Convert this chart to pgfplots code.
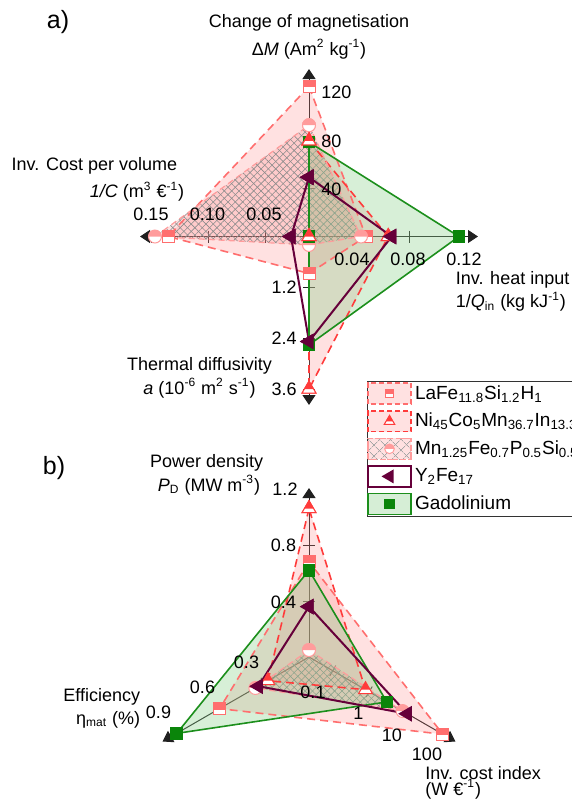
\documentclass[border=0pt]{standalone}
\usepackage{fontspec}
\setmainfont{Liberation Sans}
\usepackage{pgfplots}
\usepackage{pgfplotstable}
\pgfplotsset{compat=1.18}
\usetikzlibrary{patterns,patterns.meta,arrows.meta}

\definecolor{lafe}{HTML}{FF6E6E}
\definecolor{nico}{HTML}{FF3B3B}
\definecolor{mnfe}{HTML}{FF9C9C}
\definecolor{yfe}{HTML}{66003A}
\definecolor{gdline}{HTML}{1C8F1C}
\definecolor{gdmark}{HTML}{0A850A}
\definecolor{pinkfill}{HTML}{FF8888}
\definecolor{gdfill}{HTML}{8CD08C}
\definecolor{axcol}{HTML}{202020}

% half-filled markers
\pgfdeclareplotmark{hsquare}{%
  \begin{pgfscope}\pgfsetfillcolor{white}%
    \pgfpathrectangle{\pgfqpoint{-\pgfplotmarksize}{-\pgfplotmarksize}}{\pgfqpoint{2\pgfplotmarksize}{2\pgfplotmarksize}}%
    \pgfusepathqfill
  \end{pgfscope}%
  \pgfpathrectangle{\pgfqpoint{-\pgfplotmarksize}{-0.15\pgfplotmarksize}}{\pgfqpoint{2\pgfplotmarksize}{1.15\pgfplotmarksize}}%
  \pgfusepathqfill
  \pgfpathrectangle{\pgfqpoint{-\pgfplotmarksize}{-\pgfplotmarksize}}{\pgfqpoint{2\pgfplotmarksize}{2\pgfplotmarksize}}%
  \pgfusepathqstroke
}
\pgfdeclareplotmark{htriangle}{%
  \begin{pgfscope}\pgfsetfillcolor{white}%
    \pgfpathmoveto{\pgfqpoint{0pt}{\pgfplotmarksize}}%
    \pgfpathlineto{\pgfqpoint{-0.866\pgfplotmarksize}{-0.5\pgfplotmarksize}}%
    \pgfpathlineto{\pgfqpoint{0.866\pgfplotmarksize}{-0.5\pgfplotmarksize}}%
    \pgfpathclose\pgfusepathqfill
  \end{pgfscope}%
  \pgfpathmoveto{\pgfqpoint{0pt}{\pgfplotmarksize}}%
  \pgfpathlineto{\pgfqpoint{-0.577\pgfplotmarksize}{0pt}}%
  \pgfpathlineto{\pgfqpoint{0.577\pgfplotmarksize}{0pt}}%
  \pgfpathclose\pgfusepathqfill
  \pgfpathmoveto{\pgfqpoint{0pt}{\pgfplotmarksize}}%
  \pgfpathlineto{\pgfqpoint{-0.866\pgfplotmarksize}{-0.5\pgfplotmarksize}}%
  \pgfpathlineto{\pgfqpoint{0.866\pgfplotmarksize}{-0.5\pgfplotmarksize}}%
  \pgfpathclose\pgfusepathqstroke
}
\pgfdeclareplotmark{hcircle}{%
  \begin{pgfscope}\pgfsetfillcolor{white}%
    \pgfpathcircle{\pgfpointorigin}{\pgfplotmarksize}\pgfusepathqfill
  \end{pgfscope}%
  \pgfpathmoveto{\pgfqpoint{-\pgfplotmarksize}{0pt}}%
  \pgfpatharc{180}{0}{\pgfplotmarksize}%
  \pgfpathclose\pgfusepathqfill
  \pgfpathcircle{\pgfpointorigin}{\pgfplotmarksize}\pgfusepathqstroke
}

% ---------- panel a  (k: 0 = Delta M, 1 = 1/Q_in, 2 = a, 3 = 1/C) ----------
\pgfplotstableread{
k v
0 124
1 0.0456
2 0.87
3 0.135
0 124
}\aLaFe
\pgfplotstableread{
k v
0 79
1 0.0634
2 3.59
3 0.0114
0 79
}\aNi
\pgfplotstableread{
k v
0 92
1 0.0416
2 0.2
3 0.1465
0 92
}\aMn
\pgfplotstableread{
k v
0 49
1 0.0662
2 2.47
3 0.0272
0 49
}\aY
\pgfplotstableread{
k v
0 78
1 0.12
2 2.55
3 0.0114
0 78
}\aGd
% ---------- panel b  (k: 0 = P_D, 1 = eta_mat, 2 = inv. cost index) ----------
\pgfplotstableread{
k v
0 0.68
1 0.60
2 112
0 0.68
}\bLaFe
\pgfplotstableread{
k v
0 1.06
1 0.276
2 0.79
0 1.06
}\bNi
\pgfplotstableread{
k v
0 0.05
1 0.36
2 8.5
0 0.05
}\bMn
\pgfplotstableread{
k v
0 0.36
1 0.34
2 11.5
0 0.36
}\bY
\pgfplotstableread{
k v
0 0.62
1 0.888
2 3.1
0 0.62
}\bGd

\pgfplotsset{
  table/ta/.style={x expr={xa(\thisrow{k},\thisrow{v})}, y expr={ya(\thisrow{k},\thisrow{v})}},
  table/tb/.style={x expr={xb(\thisrow{k},\thisrow{v})}, y expr={yb(\thisrow{k},\thisrow{v})}},
  pinkF/.style={forget plot, draw=none, fill=pinkfill, fill opacity=0.25},
  hatchA/.style={forget plot, draw=none, pattern={Lines[angle=45,distance=2.6pt,line width=0.3pt]}, pattern color=black!45},
  hatchB/.style={forget plot, draw=none, pattern={Lines[angle=-45,distance=2.6pt,line width=0.3pt]}, pattern color=black!45},
  gdF/.style={forget plot, draw=none, fill=gdfill, fill opacity=0.35},
  lafeL/.style={draw=lafe, line width=0.8pt, dash pattern=on 4pt off 2.5pt, mark=hsquare, mark size=3pt, mark options={solid, fill=lafe, draw=lafe, line width=0.5pt}},
  niL/.style={draw=nico, line width=0.8pt, dash pattern=on 4pt off 2.5pt, mark=htriangle, mark size=4pt, mark options={solid, fill=nico, draw=nico, line width=0.5pt}},
  mnL/.style={draw=mnfe, line width=0.6pt, dash pattern=on 3pt off 2pt, mark=hcircle, mark size=3.25pt, mark options={solid, fill=mnfe, draw=mnfe, line width=0.5pt}},
  yL/.style={draw=yfe, line width=1pt, mark=triangle*, mark size=3.6pt, mark options={solid, rotate=90, fill=yfe, draw=yfe}},
  gdL/.style={draw=gdline, line width=0.8pt, mark=square*, mark size=2.75pt, mark options={solid, fill=gdmark, draw=gdmark}},
  legLaFe/.style={legend image code/.code={%
    \draw[lafe,line width=0.8pt,dash pattern=on 2.5pt off 1.5pt,fill=pinkfill,fill opacity=0.25] (0pt,-5.2pt) rectangle (21.5pt,5.2pt);
    \draw[##1,mark size=2pt] plot[only marks] coordinates {(10.75pt,0pt)};}},
  legNi/.style={legend image code/.code={%
    \draw[nico,line width=0.8pt,dash pattern=on 2.5pt off 1.5pt,fill=pinkfill,fill opacity=0.25] (0pt,-5.2pt) rectangle (21.5pt,5.2pt);
    \draw[##1,mark size=3pt] plot[only marks] coordinates {(10.75pt,0pt)};}},
  legMn/.style={legend image code/.code={%
    \fill[pinkfill,fill opacity=0.25] (0pt,-5.2pt) rectangle (21.5pt,5.2pt);
    \fill[pattern={Lines[angle=45,distance=4pt,line width=0.3pt]},pattern color=black!35] (0pt,-5.2pt) rectangle (21.5pt,5.2pt);
    \fill[pattern={Lines[angle=-45,distance=4pt,line width=0.3pt]},pattern color=black!35] (0pt,-5.2pt) rectangle (21.5pt,5.2pt);
    \draw[mnfe,line width=0.6pt,dash pattern=on 2pt off 1.5pt] (0pt,-5.2pt) rectangle (21.5pt,5.2pt);
    \draw[##1,mark size=2.4pt] plot[only marks] coordinates {(10.75pt,0pt)};}},
  legY/.style={legend image code/.code={%
    \draw[yfe,line width=1pt,fill=white] (0pt,-5.2pt) rectangle (21.5pt,5.2pt);
    \draw[##1,mark size=3pt] plot[only marks] coordinates {(10.75pt,0pt)};}},
  legGd/.style={legend image code/.code={%
    \draw[gdline,line width=0.8pt,fill=gdfill,fill opacity=0.35] (0pt,-5.2pt) rectangle (21.5pt,5.2pt);
    \draw[##1,mark size=2.2pt] plot[only marks] coordinates {(10.75pt,0pt)};}},
}
\tikzset{
  axline/.style={draw=axcol, line width=0.5pt, -{Triangle[width=6.5pt,length=5pt]}},
  tk/.style={draw=axcol, line width=0.5pt},
  lab/.style={inner sep=0pt},
}

\begin{document}
\begin{tikzpicture}[font=\fontsize{9}{10.8}\selectfont,
  declare function={
    ra(\x,\y)=(\x==0)*1.21*\y+(\x==1)*1250*\y+(\x==2)*42.5*\y+(\x==3)*1140*\y-(\x==3)*13;
    xa(\x,\y)=309+((\x==1)-(\x==3))*ra(\x,\y);
    ya(\x,\y)=236.5+((\x==2)-(\x==0))*ra(\x,\y);
    rb(\x,\y)=(\x==0)*140*\y+(\x==1)*172*\y+(\x==2)*(69.5+41.5*log10(\y));
    xb(\x,\y)=309+((\x==2)-(\x==1))*0.866*rb(\x,\y);
    yb(\x,\y)=657+(0.5*(\x>0)-(\x==0))*rb(\x,\y);
  }]
\begin{axis}[name=ax, at={(0pt,0pt)}, anchor=south west, scale only axis,
  width=286pt, height=402.5pt, xmin=0, xmax=572, ymin=0, ymax=805, y dir=reverse,
  hide axis, clip=false,
  legend style={at={(axis cs:366.5,381)}, anchor=north west, draw=black!80, line width=0.5pt,
    fill=white, inner xsep=0pt, inner ysep=0.4pt, row sep=2.4pt,
    nodes={inner sep=1.5pt}, font=\fontsize{9.5}{11.4}\selectfont},
  legend cell align=left]

% ----- axes of panel a -----
\draw[axline] (309,236.5) -- (309,69);
\draw[axline] (309,236.5) -- (478,236.5);
\draw[axline] (309,236.5) -- (309,405);
\draw[axline] (309,236.5) -- (140,236.5);
\draw[tk] (303,188.1) -- (315,188.1) (303,139.7) -- (315,139.7) (303,91.3) -- (315,91.3);
\draw[tk] (359,230.5) -- (359,242.5) (409,230.5) -- (409,242.5) (459,230.5) -- (459,242.5);
\draw[tk] (303,287.5) -- (315,287.5) (303,338.5) -- (315,338.5) (303,389.5) -- (315,389.5);
\draw[tk] (265,230.5) -- (265,242.5) (208,230.5) -- (208,242.5) (151,230.5) -- (151,242.5);
% ----- axes of panel b -----
\draw[axline] (309,657) -- (309,488);
\draw[axline] (309,657) -- (162.6,741.5);
\draw[axline] (309,657) -- (455.4,741.5);
\draw[tk] (303,601) -- (315,601) (303,545) -- (315,545);
\draw[tk] (261,677.8) -- (267,688.2) (216.8,703.3) -- (222.8,713.7) (171.8,729.3) -- (177.8,739.7);
\draw[tk] (329.8,675.95) -- (335.8,665.55) (366.2,696.95) -- (372.2,686.55) (402.1,717.7) -- (408.1,707.3);

% ----- fills panel a -----
\addplot[pinkF] table[ta] {\aLaFe};
\addplot[pinkF] table[ta] {\aNi};
\addplot[pinkF] table[ta] {\aMn};
\addplot[hatchA] table[ta] {\aMn};
\addplot[hatchB] table[ta] {\aMn};
\addplot[gdF] table[ta] {\aGd};
% ----- fills panel b -----
\addplot[pinkF] table[tb] {\bLaFe};
\addplot[pinkF] table[tb] {\bNi};
\addplot[pinkF] table[tb] {\bMn};
\addplot[hatchA] table[tb] {\bMn};
\addplot[hatchB] table[tb] {\bMn};
\addplot[gdF] table[tb] {\bGd};

% ----- outlines + markers panel a (legend) -----
\addplot[lafeL, legLaFe] table[ta] {\aLaFe};
\addlegendentry{LaFe\textsubscript{11.8}Si\textsubscript{1.2}H\textsubscript{1}}
\addplot[niL, legNi] table[ta] {\aNi};
\addlegendentry{Ni\textsubscript{45}Co\textsubscript{5}Mn\textsubscript{36.7}In\textsubscript{13.3}}
\addplot[mnL, legMn] table[ta] {\aMn};
\addlegendentry{Mn\textsubscript{1.25}Fe\textsubscript{0.7}P\textsubscript{0.5}Si\textsubscript{0.5}}
\addplot[yL, legY] table[ta] {\aY};
\addlegendentry{Y\textsubscript{2}Fe\textsubscript{17}}
\addplot[gdL, legGd] table[ta] {\aGd};
\addlegendentry{Gadolinium}
% markers that lie on top of the gadolinium ones
\addplot[niL, only marks, forget plot] table[ta] {\aNi};
\addplot[yL, only marks, forget plot] table[ta] {\aY};

% ----- outlines + markers panel b -----
\addplot[lafeL, forget plot] table[tb] {\bLaFe};
\addplot[niL, forget plot] table[tb] {\bNi};
\addplot[mnL, forget plot] table[tb] {\bMn};
\addplot[gdL, forget plot] table[tb] {\bGd};
\addplot[yL, forget plot] table[tb] {\bY};

% ----- texts panel a -----
\node[lab, font=\fontsize{12.5}{15}\selectfont] at (58,22) {a)};
\node[lab] at (309,23) {Change of magnetisation};
\node[lab] at (309,49) {Δ\textit{M} (Am\textsuperscript{2} kg\textsuperscript{-1})};
\node[lab] at (94.4,166) {Inv. Cost per volume};
\node[lab] at (137,191.7) {\textit{1/C} (m\textsuperscript{3} €\textsuperscript{-1})};
\node[lab, anchor=west] at (455.5,280) {Inv. heat input};
\node[lab, anchor=west] at (455.5,301.7) {1/\textit{Q}\textsubscript{in} (kg kJ\textsuperscript{-1})};
\node[lab] at (199.5,366) {Thermal diffusivity};
\node[lab] at (199.5,388.3) {\textit{a} (10\textsuperscript{-6} m\textsuperscript{2} s\textsuperscript{-1})};
\node[lab, anchor=west] at (321,189) {40};
\node[lab, anchor=west] at (321,141) {80};
\node[lab, anchor=west] at (321,92.5) {120};
\node[lab] at (352,259) {0.04};
\node[lab] at (408,259) {0.08};
\node[lab] at (464,259) {0.12};
\node[lab] at (264,214.5) {0.05};
\node[lab] at (207.5,214.5) {0.10};
\node[lab] at (151,214.5) {0.15};
\node[lab, anchor=east] at (297,287.3) {1.2};
\node[lab, anchor=east] at (297,338.3) {2.4};
\node[lab, anchor=east] at (297,389.3) {3.6};
% ----- texts panel b -----
\node[lab, font=\fontsize{12.5}{15}\selectfont] at (54,468) {b)};
\node[lab] at (206.7,463.3) {Power density};
\node[lab] at (209,485) {\textit{P}\textsubscript{D} (MW m\textsuperscript{-3})};
\node[lab, anchor=east] at (140.5,697) {Efficiency};
\node[lab, anchor=east] at (140.5,720) {η\textsubscript{mat} (\%)};
\node[lab, anchor=west] at (425,773) {Inv. cost index};
\node[lab, anchor=west] at (425,789) {(W €\textsuperscript{-1})};
\node[lab] at (285,489) {1.2};
\node[lab] at (283.5,545) {0.8};
\node[lab] at (283.5,602) {0.4};
\node[lab] at (246.5,662) {0.3};
\node[lab] at (202.5,687) {0.6};
\node[lab] at (158.5,712) {0.9};
\node[lab] at (313,692) {0.1};
\node[lab] at (358.5,713) {1};
\node[lab] at (392,735) {10};
\node[lab] at (427,754) {100};
\end{axis}
\pgfresetboundingbox
\path[use as bounding box] (ax.south west) rectangle (ax.north east);
\end{tikzpicture}
\end{document}
